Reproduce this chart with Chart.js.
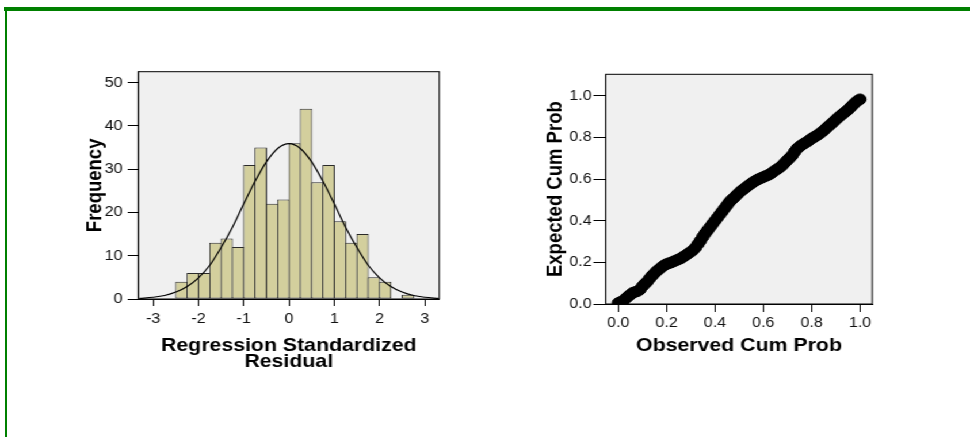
<!DOCTYPE html>
<html><head><meta charset="utf-8">
<script src="https://cdn.jsdelivr.net/npm/chart.js@4/dist/chart.umd.min.js"></script>
<style>
html,body{margin:0;padding:0;background:#fff;width:970px;height:437px;overflow:hidden;}
#frameTop{position:absolute;left:4px;top:7px;width:966px;height:4px;background:#008000;}
#frameLeft{position:absolute;left:5px;top:7px;width:2px;height:430px;background:#008000;}
#stage{position:absolute;left:0;top:0;width:843px;height:437px;transform:scaleX(1.150652);transform-origin:0 0;}
#stage canvas{position:absolute;left:0;top:0;}
</style></head><body>
<div id="frameTop"></div><div id="frameLeft"></div>
<div id="stage"><canvas id="hist" width="843" height="437"></canvas><canvas id="pp" width="843" height="437"></canvas></div>
<script>
// ---------- data ----------
const binCenters = [-2.375,-2.125,-1.875,-1.625,-1.375,-1.125,-0.875,-0.625,-0.375,-0.125,0.125,0.375,0.625,0.875,1.125,1.375,1.625,1.875,2.125,2.375,2.625];
const frequencies = [4,6,6,13,14,12,31,35,22,23,36,44,27,31,18,13,15,5,4,0,1];
const curveX = [-3.3,-3.0,-2.75,-2.5,-2.25,-2.0,-1.75,-1.5,-1.25,-1.0,-0.75,-0.5,-0.25,0,0.25,0.5,0.75,1.0,1.25,1.5,1.75,2.0,2.25,2.5,2.75,3.0,3.3];
const curveY = [0.15,0.4,0.8,1.6,2.9,4.9,7.8,11.9,16.6,22.0,27.2,31.7,34.8,35.9,34.8,31.7,27.2,22.0,16.6,11.9,7.8,4.9,2.9,1.6,0.8,0.4,0.15];
const histXTicks = [-3,-2,-1,0,1,2,3];
const histYTicks = [0,10,20,30,40,50];

const ppObserved = [0.00,0.01,0.02,0.03,0.04,0.05,0.06,0.07,0.08,0.09,0.10,0.11,0.12,0.13,0.14,0.15,0.16,0.17,0.18,0.19,0.20,0.21,0.22,0.23,0.24,0.25,0.26,0.27,0.28,0.29,0.30,0.31,0.32,0.33,0.34,0.35,0.36,0.37,0.38,0.39,0.40,0.41,0.42,0.43,0.44,0.45,0.46,0.47,0.48,0.49,0.50,0.51,0.52,0.53,0.54,0.55,0.56,0.57,0.58,0.59,0.60,0.61,0.62,0.63,0.64,0.65,0.66,0.67,0.68,0.69,0.70,0.71,0.72,0.73,0.74,0.75,0.76,0.77,0.78,0.79,0.80,0.81,0.82,0.83,0.84,0.85,0.86,0.87,0.88,0.89,0.90,0.91,0.92,0.93,0.94,0.95,0.96,0.97,0.98,0.99,1.00];
const ppExpected = [0.005,0.010,0.015,0.026,0.036,0.045,0.054,0.058,0.062,0.070,0.085,0.097,0.108,0.123,0.136,0.148,0.159,0.168,0.178,0.186,0.192,0.196,0.200,0.205,0.210,0.215,0.220,0.228,0.235,0.243,0.251,0.260,0.272,0.288,0.305,0.323,0.340,0.355,0.370,0.385,0.400,0.415,0.430,0.445,0.460,0.475,0.490,0.502,0.512,0.524,0.535,0.545,0.553,0.562,0.571,0.579,0.587,0.594,0.600,0.605,0.610,0.615,0.620,0.626,0.634,0.643,0.650,0.658,0.668,0.680,0.692,0.703,0.715,0.732,0.747,0.757,0.765,0.772,0.779,0.787,0.795,0.802,0.809,0.816,0.825,0.834,0.845,0.855,0.865,0.875,0.886,0.896,0.906,0.915,0.924,0.933,0.945,0.956,0.967,0.977,0.984];
const ppTicks = [0,0.2,0.4,0.6,0.8,1.0];

// ---------- layout helpers ----------
const S = 970/843, W = 843, H = 437;
const FONT = "'Liberation Sans', Arial, Helvetica, sans-serif";
const TICK_SIZE = 14;
const TICK_FONT = {family: FONT, size: TICK_SIZE};
const TICK_HALF = TICK_SIZE * 1.2 / 2;
const TITLE_SIZE = 18.5;

const plotFrame = {
  id: 'plotFrame',
  beforeDraw(chart) {
    const a = chart.chartArea, c = chart.ctx;
    c.save(); c.fillStyle = '#f0f0f0';
    c.fillRect(a.left, a.top, a.right - a.left, a.bottom - a.top); c.restore();
  },
  afterDraw(chart) {
    const a = chart.chartArea, c = chart.ctx;
    c.save(); c.strokeStyle = '#000'; c.lineWidth = 1;
    c.strokeRect(a.left, a.top, a.right - a.left, a.bottom - a.top); c.restore();
  }
};

function buildLayout(area, yW, xH) {
  return {padding: {left: area.l - yW, right: W - area.r, top: area.t, bottom: H - area.b - xH}};
}

// ---------- histogram ----------
(function () {
  const area = {l: 138.3 / S, r: 439.3 / S, t: 71.7, b: 299};
  const xMin = -3.33, xMax = 3.32, yMax = 52.54;
  const yW = 60, xH = 100;
  const pxPerUnit = (area.r - area.l) / (xMax - xMin);
  const barW = 0.25 * pxPerUnit;
  const yTitleCenter = 95.8 / S;
  const xLine = 16;
  const xScaleBottom = H - (H - area.b - xH);
  new Chart(document.getElementById('hist'), {
    type: 'bar',
    data: {
      datasets: [
        {
          type: 'line', order: 0,
          data: curveX.map((x, i) => ({x: x, y: curveY[i]})),
          borderColor: '#000', borderWidth: 1.2, pointRadius: 0,
          cubicInterpolationMode: 'monotone', fill: false
        },
        {
          type: 'bar', order: 1,
          data: binCenters.map((x, i) => ({x: x, y: frequencies[i]})),
          backgroundColor: '#d3cf9d', borderColor: '#2a2a2a', borderWidth: 1,
          borderSkipped: false, barPercentage: (barW + 1) / barW, categoryPercentage: 1, grouped: false
        }
      ]
    },
    options: {
      responsive: false, animation: false, devicePixelRatio: 1, events: [],
      layout: buildLayout(area, yW, xH),
      plugins: {legend: {display: false}, tooltip: {enabled: false}},
      scales: {
        x: {
          type: 'linear', min: xMin, max: xMax, offset: false,
          afterBuildTicks: s => { s.ticks = histXTicks.map(v => ({value: v})); },
          afterFit: s => { s.height = xH; },
          grid: {display: true, offset: false, drawOnChartArea: false, drawTicks: true, tickLength: 7, color: '#000', lineWidth: 1},
          border: {display: true, color: '#000', width: 1},
          ticks: {font: TICK_FONT, color: '#111', padding: 319 - 299 - 7 - TICK_HALF, maxRotation: 0, autoSkip: false},
          title: {display: true, text: ['Regression Standardized', 'Residual'], color: '#000',
            font: {family: FONT, size: TITLE_SIZE, weight: 'bold', lineHeight: xLine / TITLE_SIZE},
            padding: {top: 0, bottom: xScaleBottom - xLine / 2 - xLine - 345.5}}
        },
        y: {
          type: 'linear', min: 0, max: yMax,
          afterBuildTicks: s => { s.ticks = histYTicks.map(v => ({value: v})); },
          afterFit: s => { s.width = yW; },
          grid: {display: true, drawOnChartArea: false, drawTicks: true, tickLength: 10.6 / S, color: '#000', lineWidth: 1},
          border: {display: true, color: '#000', width: 1},
          ticks: {font: TICK_FONT, color: '#111', padding: 4.5, autoSkip: false},
          title: {display: true, text: 'Frequency', color: '#000',
            font: {family: FONT, size: TITLE_SIZE, weight: 'bold', lineHeight: 1.2},
            padding: {top: yTitleCenter - (area.l - yW) - TITLE_SIZE * 1.2 / 2, bottom: 0}}
        }
      }
    },
    plugins: [plotFrame]
  });
})();

// ---------- P-P plot ----------
(function () {
  const area = {l: 605.7 / S, r: 872.3 / S, t: 74.3, b: 304};
  const yW = 60, xH = 100;
  const yTitleCenter = 555.8 / S;
  const xLine = TITLE_SIZE * 1.2;
  const xScaleBottom = H - (H - area.b - xH);
  new Chart(document.getElementById('pp'), {
    type: 'scatter',
    data: {
      datasets: [{
        data: ppObserved.map((x, i) => ({x: x, y: ppExpected[i]})),
        pointRadius: 5.3, pointBorderWidth: 1, pointBorderColor: '#000', pointBackgroundColor: '#000',
        clip: 0
      }]
    },
    options: {
      responsive: false, animation: false, devicePixelRatio: 1, events: [],
      layout: buildLayout(area, yW, xH),
      plugins: {legend: {display: false}, tooltip: {enabled: false}},
      scales: {
        x: {
          type: 'linear', min: -0.052, max: 1.051,
          afterBuildTicks: s => { s.ticks = ppTicks.map(v => ({value: v})); },
          afterFit: s => { s.height = xH; },
          grid: {display: true, drawOnChartArea: false, drawTicks: true, tickLength: 8, color: '#000', lineWidth: 1},
          border: {display: true, color: '#000', width: 1},
          ticks: {font: TICK_FONT, color: '#111', padding: 323.3 - 304 - 8 - TICK_HALF, maxRotation: 0, autoSkip: false, callback: v => Number(v).toFixed(1)},
          title: {display: true, text: 'Observed Cum Prob', color: '#000',
            font: {family: FONT, size: TITLE_SIZE, weight: 'bold', lineHeight: 1.2},
            padding: {top: 0, bottom: xScaleBottom - xLine / 2 - 346}}
        },
        y: {
          type: 'linear', min: 0, max: 1.104,
          afterBuildTicks: s => { s.ticks = ppTicks.map(v => ({value: v})); },
          afterFit: s => { s.width = yW; },
          grid: {display: true, drawOnChartArea: false, drawTicks: true, tickLength: 12.3 / S, color: '#000', lineWidth: 1},
          border: {display: true, color: '#000', width: 1},
          ticks: {font: TICK_FONT, color: '#111', padding: 1.5, autoSkip: false, callback: v => Number(v).toFixed(1)},
          title: {display: true, text: 'Expected Cum Prob', color: '#000',
            font: {family: FONT, size: TITLE_SIZE, weight: 'bold', lineHeight: 1.2},
            padding: {top: yTitleCenter - (area.l - yW) - TITLE_SIZE * 1.2 / 2, bottom: 0}}
        }
      }
    },
    plugins: [plotFrame]
  });
})();
</script>
</body></html>
